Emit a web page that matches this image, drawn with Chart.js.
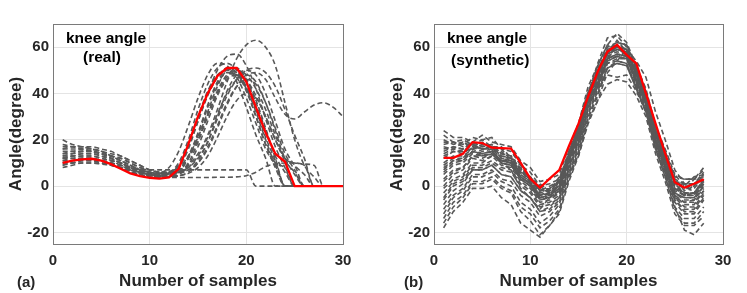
<!DOCTYPE html>
<html>
<head>
<meta charset="utf-8">
<script src="https://cdn.jsdelivr.net/npm/chart.js@4.4.1/dist/chart.umd.min.js"></script>
<style>
  html, body { margin: 0; padding: 0; background: #fff; }
  body { width: 747px; height: 293px; position: relative; overflow: hidden; font-family: "Liberation Sans", Arial, sans-serif; }
  canvas { position: absolute; top: 0; }
  #ca { left: 0; }
  #cb { left: 381px; }
  .lbl { position: absolute; font-weight: bold; color: #000; white-space: nowrap; line-height: 18px; }
  .ann { font-size: 15.5px; }
  .pan { font-size: 15px; color: #262626; }
</style>
</head>
<body>
<canvas id="ca" width="373" height="293"></canvas>
<canvas id="cb" width="366" height="293"></canvas>
<div class="lbl ann" style="left:66px; top:29px;">knee angle</div>
<div class="lbl ann" style="left:83px; top:48px;">(real)</div>
<div class="lbl ann" style="left:447px; top:29px;">knee angle</div>
<div class="lbl ann" style="left:451px; top:51px;">(synthetic)</div>
<div class="lbl pan" style="left:17px; top:273px;">(a)</div>
<div class="lbl pan" style="left:404px; top:273px;">(b)</div>
<script>
// ---------- data ----------
const xTicks = [0, 10, 20, 30];
const yTicks = [-20, 0, 20, 40, 60];
const samplesA = [1,2,3,4,5,6,7,8,9,10,11,12,13,14,15,16,17,18,19,20,21,22,23,24,25,26,27,28,29,30];
const samplesB = [1,2,3,4,5,6,7,8,9,10,11,12,13,14,15,16,17,18,19,20,21,22,23,24,25,26,27,28];

const redReal = [10,11,11.5,11.8,11,9.5,7.5,5.5,4.3,3.6, 3.2,3.8,7.5,18,30,40,47.5,51,51,45, 34,23,14,10.5,0,0,0,0,0,0];
const redSynthetic = [12.2,12.2,14,19,18.6,16.6,16.4,16.2,10,3.2, -0.7,3.2,6.9,17.2,27,38.7,49.5,58,61,56.7, 53,40,27,14,1.7,-0.7,1,2.9];

const realTrials = [
  [12,13,14,14,13,11,9,7,5.5,4.5, 4,4.5,8,18,30,41,48,50,47,38, 27,16,9,0,0,0,0,0,0,0],
  [10,11,12,12,11,10,8,6,5,4, 3.8,4,6,12,22,34,44,49,48,42, 32,20,10,8,0,0,0,0,0,0],
  [15,15,16,16,15,13,11,9,7,6, 5,6,10,20,33,44,51,53,50,42, 30,18,10,0,0,0,0,0,0,0],
  [17,17,17,16,15,14,13,11,9,7, 6,6,7,9,14,22,33,45,55,61, 63,60,52,36,20,9,4,0,0,0],
  [14,14,15,15,14,13,12,10,8,6, 5,5,6,8,12,19,29,39,46,50, 51,49,43,33,22,12,0,0,0,0],
  [13,14,15,15,14,13,12,10,8,7, 6,5.5,6,7,10,16,25,35,43,48, 49,46,38,31,29,32,35,36,34,30],
  [11,12,12,12,11,10,9,8,7.5,7, 7,7,7,7,7,7,7,7,7,7, 0,0,0,0,0,0,0,0,0,0],
  [9,10,11,11,10,9,8,6.5,5,4.5, 4,3.8,3.7,3.7,3.7,3.7,3.8,3.8,4,4.5, 6,8.5,9.5,10,10,9.5,9,0,0,0],
  [16,16,16,15,14,12,10,8,6,5, 5.5,8,15,26,38,48,53,52,45,34, 22,12,0,0,0,0,0,0,0,0],
  [13,13,14,14,13,12,10,8,6.5,5, 4.5,5,8,16,28,40,50,56,57,52, 42,29,17,8,0,0,0,0,0,0],
  [9,10,10,10,9.5,9,8,7,6,5, 4.5,4,4.5,6,10,17,26,36,43,46, 44,36,25,14,7,0,0,0,0,0],
  [11,11,12,12,11,10,9,7.5,6,5, 4.5,4,4.5,5.5,8,13,21,30,37,40, 38,30,20,11,6,0,0,0,0,0],
  [20,18,17,16,15,13,11,9,7,6, 5.5,6,9,17,28,39,47,51,49,41, 30,18,8,0,0,0,0,0,0,0],
  [8,9,10,10,10,9,8,7,6,5, 4.5,4,5,9,17,28,39,46,48,45, 36,24,13,6,0,0,0,0,0,0],
  [12,12,13,13,12,11,10,8,7,6, 5.5,5,5.5,7,11,19,30,41,48,50, 48,40,28,16,9,5,0,0,0,0],
  [14,15,15,15,14,12,10,8,6,5, 4.5,5,7,13,23,35,45,50,49,43, 33,21,11,0,0,0,0,0,0,0],
  [10,10,11,11,11,10,9,8,7,6, 5.5,5.5,6,8,13,21,31,40,46,48, 45,36,24,12,10,9,0,0,0,0],
  [16,17,17,17,16,15,13,11,9,7, 6,6,8,13,21,32,43,50,51,46, 37,25,12,0,0,0,0,0,0,0],
  [12,13,13,13,12,11,10,8,6.5,5.5, 5,5,6,10,19,30,40,47,49,46, 39,30,20,12,9,0,0,0,0,0],
  [18,17,16,15,14,13,11,9,7,6, 5,5,7,12,20,31,41,48,50,48, 42,33,22,12,5,0,0,0,0,0]
];

const syntheticTrials = [
  [24,21,21,19,22,19,18,17,11,8, 2,3,5,17,27,41,49,59,62,61, 51,41,26,16,5,3,3,7],
  [-18,-11,-7,-1,-1,0,-5,-8,-16,-19, -22,-17,-11,3,14,29,39,51,54,53, 43,33,17,5,-9,-19,-21,-16],
  [18,19,18,21,20,21,16,15,9,6, 0,1,3,15,25,40,49,59,61,59, 49,39,23,12,1,-3,-3,3],
  [10,13,13,16,14,15,11,10,4,1, -5,-5,-3,10,21,36,46,56,58,57, 47,37,21,9,-3,-5,-5,1],
  [-10,-4,-1,5,5,7,3,2,-4,-7, -13,-11,-7,6,17,32,42,53,55,55, 45,35,19,7,-6,-11,-11,-5],
  [5,9,10,14,13,14,10,9,3,0, -6,-5,-2,11,22,37,47,57,59,58, 48,37,21,10,-1,-4,-4,2],
  [15,17,16,19,17,18,14,13,7,4, -2,-1,1,13,24,39,48,58,60,59, 49,39,23,12,2,0,0,5],
  [-5,1,3,8,8,10,7,6,0,-3, -9,-8,-5,8,19,34,44,55,57,56, 46,36,20,8,-5,-9,-9,-3],
  [20,18,19,16,18,15,15,10,8,1, -1,-4,2,10,25,36,49,55,61,56, 50,36,24,9,2,-4,1,2],
  [-14,-7,-4,2,2,4,0,-2,-9,-12, -18,-15,-10,4,15,30,40,51,53,52, 42,32,16,4,-10,-16,-16,-11],
  [0,5,7,12,11,13,9,8,2,-1, -7,-6,-3,10,20,35,45,55,57,56, 46,36,20,9,-3,-6,-6,-1],
  [12,15,15,18,16,17,12,11,5,2, -4,-3,-1,12,23,38,47,57,59,58, 48,38,22,11,-1,-3,-3,3],
  [22,19,20,18,20,17,17,12,10,3, 1,-2,4,12,27,38,51,57,63,58, 52,38,26,11,5,0,4,5],
  [-8,-2,1,7,7,9,5,4,-2,-5, -11,-10,-6,7,18,33,43,54,56,55, 45,35,19,7,-6,-10,-10,-4],
  [8,11,11,15,13,14,10,9,3,0, -5,-3,0,13,24,39,48,58,60,59, 49,39,23,12,1,-1,-1,4],
  [3,7,8,13,12,14,10,9,3,0, -6,-5,-2,11,21,36,45,55,56,55, 45,35,19,8,-4,-7,-7,-2],
  [17,16,19,17,19,16,16,11,9,2, 0,-3,3,11,26,37,50,55,61,56, 50,36,24,9,3,-2,3,4],
  [-12,-5,-2,4,4,6,2,0,-7,-10, -16,-13,-8,5,16,31,41,51,53,52, 42,32,16,4,-9,-14,-14,-9],
  [14,16,15,18,16,17,13,12,6,3, -3,-2,0,12,22,37,46,55,57,56, 46,36,20,9,-2,-4,-3,2],
  [6,10,11,15,14,15,11,10,4,1, -5,-4,-1,12,23,38,47,57,59,58, 48,38,22,11,-1,-4,-4,1],
  [-3,2,4,9,9,11,8,7,1,-2, -8,-7,-4,9,20,35,44,54,56,55, 45,35,19,8,-4,-8,-8,-2],
  [19,19,17,19,17,18,14,13,7,4, -2,-1,2,14,25,40,52,61,66,62, 52,42,26,15,4,3,3,8],
  [9,12,12,15,14,15,11,10,4,1, -4,-2,0,12,22,36,43,48,47,48, 41,32,18,8,-3,-5,-5,0],
  [-16,-9,-5,1,1,3,-1,-3,-11,-15, -21,-17,-12,2,13,28,37,44,46,45, 39,30,14,2,-12,-17,-17,-13],
  [13,15,14,17,15,16,12,11,5,2, -4,-3,0,13,26,40,53,64,65,60, 50,40,24,13,3,1,1,5],
  [2,6,8,13,13,15,11,10,4,1, -5,-4,-1,12,23,38,48,58,60,59, 49,39,23,12,0,-3,-3,2],
  [16,17,16,18,16,17,13,12,6,3, -2,0,2,14,25,40,50,60,62,61, 51,40,24,13,2,1,1,6],
  [-6,0,2,7,7,9,5,4,-2,-5, -11,-9,-5,8,19,34,43,53,54,53, 43,33,17,6,-7,-12,-12,-6],
  [7,11,12,17,16,16,10,7,-1,-5, -10,-5,1,15,27,43,52,61,60,56, 44,33,17,6,-5,-7,-6,0],
  [-1,3,5,10,10,13,11,11,6,4, -2,-2,-3,5,13,27,37,49,54,59, 54,47,32,20,7,1,-3,1]
];

// ---------- chart building ----------
const GRAY = 'rgb(88,88,88)';
const RED = '#ff0000';
const TXT = '#262626';
const FONT = '"Liberation Sans", Arial, Helvetica, sans-serif';

const framePlugin = {
  id: 'frame',
  afterDatasetsDraw(chart) {
    const a = chart.chartArea, ctx = chart.ctx;
    ctx.save();
    ctx.strokeStyle = '#7a7a7a';
    ctx.lineWidth = 1;
    ctx.strokeRect(Math.round(a.left) + 0.5, Math.round(a.top) + 0.5, Math.round(a.right - a.left), Math.round(a.bottom - a.top));
    ctx.restore();
  }
};

function pts(xs, ys) { return ys.map((v, i) => ({ x: xs[i], y: v })); }

function makeChart(id, xs, trials, red, smooth, rightPad) {
  const datasets = [{
    data: pts(xs, red), borderColor: RED, borderWidth: 2.3, pointRadius: 0, order: 0, tension: 0
  }];
  trials.forEach(t => datasets.push({
    data: pts(xs, t), borderColor: GRAY, borderWidth: 1.6, borderDash: [5, 3],
    pointRadius: 0, order: 1,
    cubicInterpolationMode: smooth ? 'monotone' : 'default', tension: 0
  }));
  return new Chart(document.getElementById(id), {
    type: 'line',
    data: { datasets },
    plugins: [framePlugin],
    options: {
      responsive: false, animation: false, devicePixelRatio: 1,
      layout: { padding: { top: 24, right: rightPad, left: 0, bottom: 0 } },
      plugins: { legend: { display: false }, tooltip: { enabled: false } },
      scales: {
        x: {
          type: 'linear', min: 0, max: 30,
          afterBuildTicks: s => { s.ticks = xTicks.map(v => ({ value: v })); },
          afterFit: s => { s.height = 49; },
          grid: { color: '#e4e4e4', drawTicks: false, lineWidth: 1 },
          border: { display: false },
          ticks: { color: TXT, padding: 8, font: { family: FONT, size: 15, weight: 'bold' }, maxRotation: 0 },
          title: { display: true, text: 'Number of samples', color: TXT, padding: { top: 0, bottom: 1 },
                   font: { family: FONT, size: 17, weight: 'bold' } }
        },
        y: {
          type: 'linear', min: -25, max: 70,
          afterBuildTicks: s => { s.ticks = yTicks.map(v => ({ value: v })); },
          afterFit: s => { s.width = 53; },
          grid: { color: '#e4e4e4', drawTicks: false, lineWidth: 1 },
          border: { display: false },
          ticks: { color: TXT, padding: 4, font: { family: FONT, size: 15, weight: 'bold' } },
          title: { display: true, text: 'Angle(degree)', color: TXT, padding: { top: 6, bottom: 0 },
                   font: { family: FONT, size: 17, weight: 'bold' } }
        }
      }
    }
  });
}

makeChart('ca', samplesA, realTrials, redReal, true, 30);
makeChart('cb', samplesB, syntheticTrials, redSynthetic, false, 24);
</script>
</body>
</html>
